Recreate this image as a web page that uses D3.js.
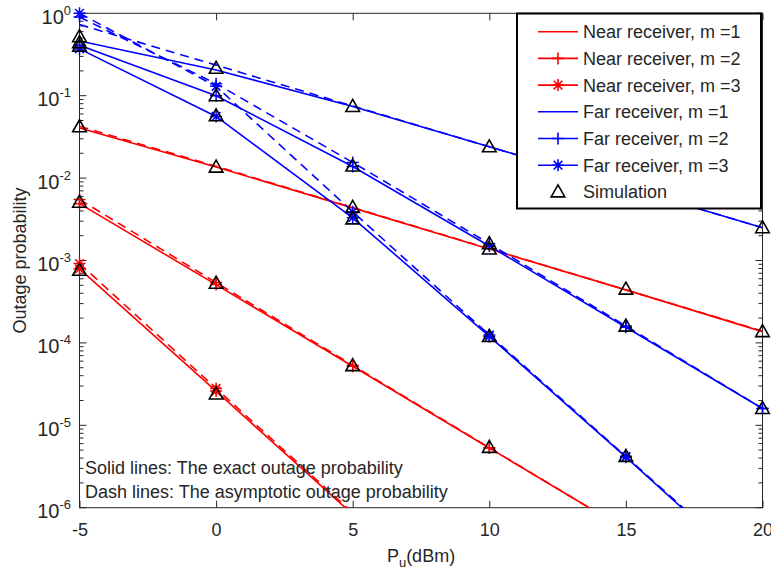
<!DOCTYPE html>
<html>
<head>
<meta charset="utf-8">
<script src="https://cdn.jsdelivr.net/npm/d3@7"></script>
<style>
  html, body { margin: 0; padding: 0; background: #fff; }
  svg { display: block; }
  text { font-family: Arial, "Liberation Sans", sans-serif; fill: #262626; }
</style>
</head>
<body>
<svg id="chart" width="771" height="571"></svg>
<script>
// ---------------- data ----------------
const xVals = [-5, 0, 5, 10, 15, 20];
const xTicks = [-5, 0, 5, 10, 15, 20];
const yTickExps = [0, -1, -2, -3, -4, -5, -6];

// Near receiver (exact / asymptotic)
const nearExact1 = [0.0405, 0.0136, 4.35e-3, 1.38e-3, 4.4e-4, 1.37e-4];
const nearAsym1  = [0.0425, 0.0139, 4.4e-3, 1.39e-3, 4.4e-4, 1.39e-4];
const nearExact2 = [4.9e-3, 5.1e-4, 5.2e-5, 5.3e-6, 5.4e-7, 5.5e-8];
const nearAsym2  = [5.5e-3, 5.4e-4, 5.35e-5, 5.35e-6, 5.4e-7, 5.5e-8];
const nearExact3 = [7.9e-4, 2.6e-5, 8.3e-7, 2.6e-8, 8.3e-10, 2.6e-11];
const nearAsym3  = [9.2e-4, 2.8e-5, 8.7e-7, 2.7e-8, 8.5e-10, 2.7e-11];
// Far receiver (exact / asymptotic)
const farExact1 = [0.46, 0.205, 0.074, 0.024, 0.0078, 0.0025];
const farAsym1  = [0.73, 0.235, 0.075, 0.024, 0.0078, 0.0025];
const farExact2 = [0.41, 0.10, 0.0138, 1.5e-3, 1.55e-4, 1.6e-5];
const farAsym2  = [0.9, 0.14, 0.0155, 1.6e-3, 1.6e-4, 1.6e-5];
const farExact3 = [0.37, 0.056, 3.3e-3, 1.2e-4, 4.1e-6, 1.3e-7];
const farAsym3  = [1.0, 0.13, 3.9e-3, 1.25e-4, 4.2e-6, 1.35e-7];
// Simulation points
const simNear1 = [0.042, 0.0136, 4.4e-3, 1.38e-3, 4.5e-4, 1.37e-4];
const simNear2 = [5.1e-3, 5.3e-4, 5.3e-5, 5.4e-6, null, null];
const simNear3 = [7.6e-4, 2.4e-5, null, null, null, null];
const simFar1  = [0.52, 0.215, 0.074, 0.024, 0.0078, 0.0025];
const simFar2  = [0.44, 0.10, 0.014, 1.6e-3, 1.6e-4, 1.6e-5];
const simFar3  = [0.40, 0.057, 3.2e-3, 1.2e-4, 4.2e-6, null];

const legendLabels = ["Near receiver, m =1", "Near receiver, m =2", "Near receiver, m =3",
                      "Far receiver, m =1", "Far receiver, m =2", "Far receiver, m =3", "Simulation"];
const noteLines = ["Solid lines: The exact outage probability",
                   "Dash lines: The asymptotic outage probability"];

// ---------------- setup ----------------
const RED = "#ff0000", BLUE = "#0000ff";
const svg = d3.select("#chart");
const L = 79.5, R = 762.5, T = 13.3, B = 507.7;
const x = d3.scaleLinear().domain([-5, 20]).range([L, R]);
const y = d3.scaleLog().domain([1e-6, 1]).range([B, T]);

const series = [
  {exact: nearExact1, asym: nearAsym1, color: RED, marker: null},
  {exact: nearExact2, asym: nearAsym2, color: RED, marker: "plus"},
  {exact: nearExact3, asym: nearAsym3, color: RED, marker: "star"},
  {exact: farExact1, asym: farAsym1, color: BLUE, marker: null},
  {exact: farExact2, asym: farAsym2, color: BLUE, marker: "plus"},
  {exact: farExact3, asym: farAsym3, color: BLUE, marker: "star"},
];
const sims = [simNear1, simNear2, simNear3, simFar1, simFar2, simFar3];

svg.append("defs").append("clipPath").attr("id", "clip")
  .append("rect").attr("x", L).attr("y", T).attr("width", R - L).attr("height", B - T);

// ---------------- axes box & ticks ----------------
const axisColor = "#262626";
const axG = svg.append("g");
axG.append("rect").attr("x", L).attr("y", T).attr("width", R - L).attr("height", B - T)
  .attr("fill", "none").attr("stroke", axisColor).attr("stroke-width", 1);

// x ticks (bottom + top, inward)
const xAxisB = d3.axisBottom(x).tickValues(xTicks).tickSizeInner(-7).tickSizeOuter(0).tickPadding(16)
  .tickFormat(d => String(d));
const gxb = svg.append("g").attr("transform", `translate(0,${B})`).call(xAxisB);
gxb.select(".domain").remove();
gxb.selectAll("line").attr("stroke", axisColor);
gxb.selectAll("text").attr("font-size", 18).attr("fill", axisColor)
  .attr("font-family", 'Arial, "Liberation Sans", sans-serif');
const xAxisT = d3.axisTop(x).tickValues(xTicks).tickSizeInner(-7).tickSizeOuter(0).tickFormat("");
const gxt = svg.append("g").attr("transform", `translate(0,${T})`).call(xAxisT);
gxt.select(".domain").remove();
gxt.selectAll("line").attr("stroke", axisColor);

// y ticks major + minor (left + right, inward)
const majors = yTickExps.map(e => Math.pow(10, e));
const minors = [];
for (let e = -6; e < 0; e++) for (let k = 2; k <= 9; k++) minors.push(k * Math.pow(10, e));
[[L, 1], [R, -1]].forEach(([x0, dir]) => {
  axG.selectAll(null).data(majors).enter().append("line")
    .attr("x1", x0).attr("x2", x0 + dir * 7).attr("y1", d => y(d)).attr("y2", d => y(d))
    .attr("stroke", axisColor);
  axG.selectAll(null).data(minors).enter().append("line")
    .attr("x1", x0).attr("x2", x0 + dir * 4).attr("y1", d => y(d)).attr("y2", d => y(d))
    .attr("stroke", axisColor);
});
// y tick labels 10^e
const yl = svg.append("g");
yTickExps.forEach(e => {
  const t = yl.append("text").attr("x", 71).attr("y", y(Math.pow(10, e)) + 10.5)
    .attr("text-anchor", "end").attr("fill", axisColor);
  t.append("tspan").attr("font-size", 20).text("10");
  t.append("tspan").attr("font-size", 13).attr("dy", -9).text(String(e));
});

// axis labels
svg.append("text").attr("x", 421).attr("y", 562).attr("text-anchor", "middle")
  .attr("font-size", 18).attr("fill", axisColor)
  .call(t => {
    t.append("tspan").text("P");
    t.append("tspan").attr("font-size", 13).attr("dy", 5).text("u");
    t.append("tspan").attr("dy", -5).text("(dBm)");
  });
svg.append("text").attr("transform", `translate(26,${(T + B) / 2}) rotate(-90)`)
  .attr("text-anchor", "middle").attr("font-size", 18).attr("fill", axisColor)
  .text("Outage probability");

// ---------------- marker helpers ----------------
function markerPath(type, s) {
  if (type === "plus") return `M${-s},0H${s}M0,${-s}V${s}`;
  if (type === "star") {
    const d = s * 0.72;
    return `M${-s},0H${s}M0,${-s}V${s}M${-d},${-d}L${d},${d}M${-d},${d}L${d},${-d}`;
  }
  if (type === "tri") return `M0,${-7}L${6.8},${5}L${-6.8},${5}Z`;
  return "";
}

// ---------------- lines ----------------
const plotG = svg.append("g");
const clipG = plotG.append("g").attr("clip-path", "url(#clip)");
const line = d3.line().x((d, i) => x(xVals[i])).y(d => y(d));

series.forEach(s => {
  clipG.append("path").datum(s.exact).attr("d", line)
    .attr("fill", "none").attr("stroke", s.color).attr("stroke-width", 1.6);
  clipG.append("path").datum(s.asym).attr("d", line)
    .attr("fill", "none").attr("stroke", s.color).attr("stroke-width", 1.6)
    .attr("stroke-dasharray", "9,6");
});
// markers on lines
series.forEach(s => {
  if (!s.marker) return;
  [s.exact, s.asym].forEach(arr => {
    arr.forEach((v, i) => {
      if (v < 1e-6 || v > 1) return;
      plotG.append("path").attr("d", markerPath(s.marker, 6))
        .attr("transform", `translate(${x(xVals[i])},${y(v)})`)
        .attr("fill", "none").attr("stroke", s.color).attr("stroke-width", 1.5);
    });
  });
});
// simulation triangles
sims.forEach(arr => {
  arr.forEach((v, i) => {
    if (v == null || v < 1e-6 || v > 1) return;
    plotG.append("path").attr("d", markerPath("tri"))
      .attr("transform", `translate(${x(xVals[i])},${y(v)})`)
      .attr("fill", "none").attr("stroke", "#000").attr("stroke-width", 1.6);
  });
});

// ---------------- notes ----------------
noteLines.forEach((t, i) => {
  svg.append("text").attr("x", 85).attr("y", 474 + i * 23.5).attr("font-size", 18)
    .attr("fill", "#000").text(t);
});

// ---------------- legend ----------------
const lg = svg.append("g");
lg.append("rect").attr("x", 517).attr("y", 13.5).attr("width", 244).attr("height", 195)
  .attr("fill", "#fff").attr("stroke", "#000").attr("stroke-width", 2);
const legItems = series.map(s => ({color: s.color, marker: s.marker, line: true}))
  .concat([{color: "#000", marker: "tri", line: false}]);
legItems.forEach((it, i) => {
  const cy = 31.7 + i * 26.7;
  if (it.line) lg.append("line").attr("x1", 538).attr("x2", 578).attr("y1", cy).attr("y2", cy)
    .attr("stroke", it.color).attr("stroke-width", 1.6);
  if (it.marker) lg.append("path").attr("d", markerPath(it.marker, 6))
    .attr("transform", `translate(558,${cy})`).attr("fill", "none")
    .attr("stroke", it.color).attr("stroke-width", 1.6);
  lg.append("text").attr("x", 583).attr("y", cy + 6.5).attr("font-size", 18)
    .attr("fill", "#000").text(legendLabels[i]);
});
</script>
</body>
</html>
